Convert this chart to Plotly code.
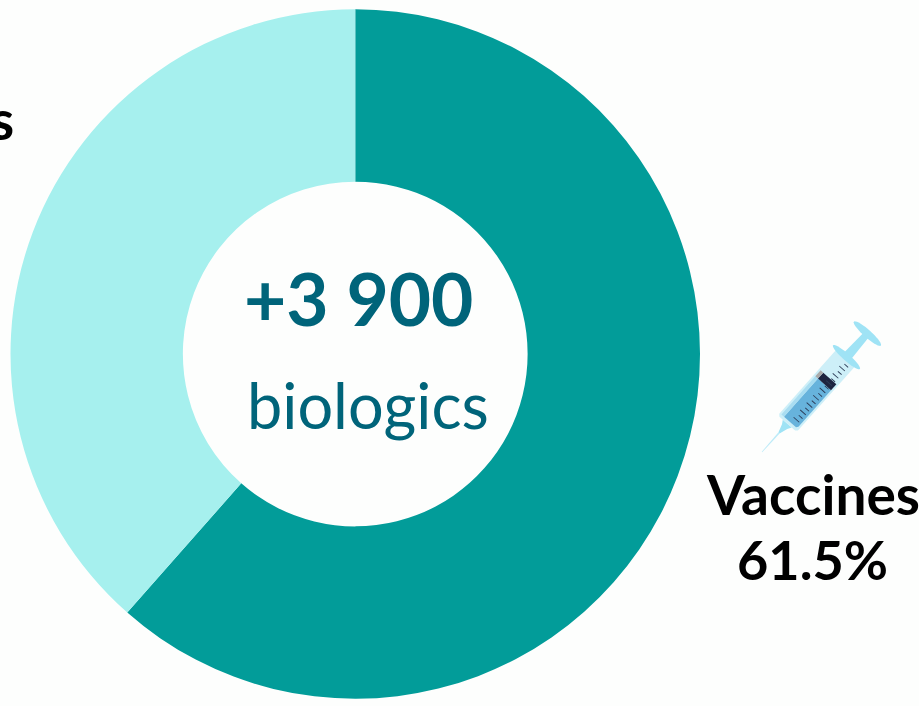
import math
import plotly.graph_objects as go

# Data
categories = ["Vaccines", "Proteins"]
values = [61.5, 38.5]
slice_colors = ["#029C99", "#A6F0EE"]
center_number = "+3 900"
center_word = "biologics"
vaccine_label = "Vaccines"
vaccine_share = "61.5%"
left_label = "Proteins"

W, H = 919, 706
BG = "#FDFEFD"
TEAL = "#00647A"

fig = go.Figure(go.Pie(
    labels=categories, values=values, hole=0.5, sort=False, direction="clockwise",
    rotation=0, textinfo="none", hoverinfo="label+percent",
    marker=dict(colors=slice_colors, line=dict(width=0)),
    domain=dict(x=[10.5 / W, 700 / W], y=[(H - 699) / H, (H - 9) / H]),
    showlegend=False,
))


def note(text, x, y, size, color, bold=False, anchor="center"):
    fig.add_annotation(
        text=f"<b>{text}</b>" if bold else text,
        x=x / W, y=1 - y / H, xref="paper", yref="paper", showarrow=False,
        xanchor=anchor, yanchor="middle",
        font=dict(family="Lato, Open Sans, sans-serif", size=size, color=color),
    )


note(center_number, 358, 298, 73, TEAL, True)
note(center_word, 368, 404, 63, TEAL)
note(vaccine_label, 813, 494, 55, "#000000", True)
note(vaccine_share, 812, 559, 54, "#000000", True)
note(left_label, 16, 119, 55, "#000000", True, "right")

# Decorative syringe: local (t along the axis from needle tip, s across it)
TIP = (762.0, 452.0)
U = (0.665, -0.747)
V = (0.747, 0.665)


def poly(points, color):
    pts = []
    for t, s in points:
        x = TIP[0] + U[0] * t + V[0] * s
        y = TIP[1] + U[1] * t + V[1] * s
        pts.append(f"{x / W:.5f},{1 - y / H:.5f}")
    fig.add_shape(type="path", path="M" + " L".join(pts) + " Z", xref="paper", yref="paper",
                  fillcolor=color, line=dict(width=0), layer="above")


def stroke(t, s0, s1, color):
    poly([(t - 0.45, s0), (t + 0.45, s0), (t + 0.45, s1), (t - 0.45, s1)], color)


def disc(tc, rt, rs, color):
    poly([(tc + rt * math.cos(a * math.pi / 18), rs * math.sin(a * math.pi / 18)) for a in range(36)], color)


LIGHT = "#9FE3F5"
poly([(0, -0.3), (0, 0.3), (28, 0.9), (28, -0.9)], "#BDEBF8")           # needle
poly([(26, -0.9), (26, 0.9), (34, 3.5), (38, 6), (38, -6), (34, -3.5)], LIGHT)  # hub
poly([(125, -5), (125, 5), (157, 3.5), (157, -3.5)], LIGHT)             # rod
disc(158.5, 3.8, 18, LIGHT)                                             # plunger head
poly([(38, -10.5), (40, -12.5), (125, -12.5), (125, 12.5), (40, 12.5), (38, 10.5)], "#CDEFF8")  # barrel
disc(127, 3.5, 18, LIGHT)                                               # flange
poly([(41, -7), (41, 9), (43, 10.5), (92, 10.5), (92, -7)], "#67B3DC")  # fluid
poly([(41, -10.5), (41, -7), (92, -7), (92, -10.5)], "#A9DDF1")         # fluid highlight
poly([(92, -7), (92, 10.5), (100, 10.5), (100, -7)], "#1E2440")         # piston
poly([(92, -10.5), (92, -7), (100, -7), (100, -10.5)], "#A9A9A9")       # piston cap
for i in range(16):
    t = 47 + i * 4.9
    stroke(t, 3 if i % 2 else 0.5, 8, "#2B3A55")

fig.update_layout(
    width=W, height=H, margin=dict(l=0, r=0, t=0, b=0),
    paper_bgcolor=BG, plot_bgcolor=BG, showlegend=False,
)
fig.write_html("out.html", config={"displayModeBar": False},
               post_script="document.body.style.margin='0';document.body.style.background='#FDFEFD';")
